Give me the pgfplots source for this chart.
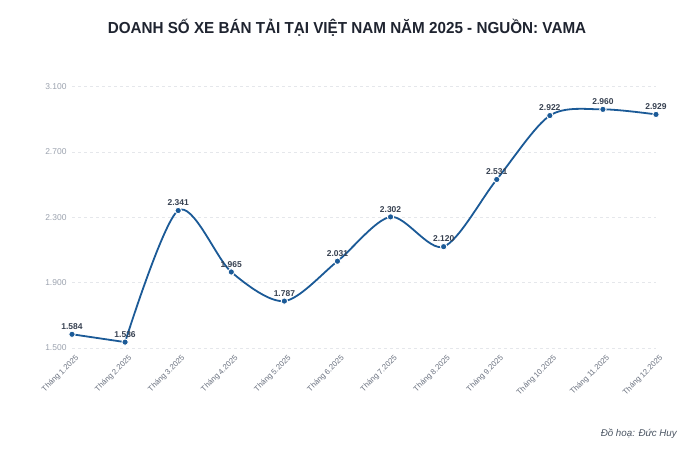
\documentclass[border=0pt]{standalone}
\usepackage{pgfplots}
\pgfplotsset{compat=1.18}
\usepackage{fontspec}
\setmainfont{Liberation Sans}
\definecolor{lineblue}{HTML}{1B5A97}
\definecolor{titlecol}{HTML}{1F2430}
\definecolor{ytickcol}{HTML}{9CA3AF}
\definecolor{xtickcol}{HTML}{6B7280}
\definecolor{labcol}{HTML}{374151}
\definecolor{credcol}{HTML}{4B5563}
\definecolor{gridcol}{HTML}{E5E7EB}
\pgfplotstableread{
x y
0 1584
1 1536
2 2341
3 1965
4 1787
5 2031
6 2302
7 2120
8 2531
9 2922
10 2960
11 2929
}\sales
\pgfplotstableread{
x y
0 1584
1 1536
}\segA
\pgfplotstableread{
x y
1 1536
2 2341
3 1965
4 1787
5 2031
6 2302
7 2120
8 2531
9 2922
10 2960
11 2929
}\segB
\begin{document}
\begin{tikzpicture}[x=1bp,y=1bp]
\path[use as bounding box, fill=white] (0,0) rectangle (700,451);
\begin{axis}[
  at={(72bp,103bp)}, anchor=south west,
  scale only axis, width=584bp, height=261.5bp,
  xmin=0, xmax=11, ymin=1500, ymax=3100,
  clip=false,
  axis line style={draw=none},
  major tick length=0pt,
  ytick={1500,1900,2300,2700,3100},
  xtick={0,...,11},
  xticklabels={Tháng 1.2025,Tháng 2.2025,Tháng 3.2025,Tháng 4.2025,Tháng 5.2025,Tháng 6.2025,Tháng 7.2025,Tháng 8.2025,Tháng 9.2025,Tháng 10.2025,Tháng 11.2025,Tháng 12.2025},
  ymajorgrids,
  grid style={gridcol, dash pattern=on 3bp off 3bp, line width=0.6bp},
  /pgf/number format/assume math mode=true,
  /pgf/number format/1000 sep={.},
  y tick label style={font=\fontsize{8.5}{10}\selectfont, text=ytickcol, xshift=-2bp},
  x tick label style={font=\fontsize{7.8}{9}\selectfont, text=xtickcol, rotate=45, anchor=north east, xshift=1bp, yshift=-3bp},
]
\addplot[lineblue, line width=1.8bp, smooth, tension=0.4, no marks] table[x=x,y=y] {\segA};
\addplot[lineblue, line width=1.8bp, smooth, tension=0.5, no marks] table[x=x,y=y] {\segB};
\addplot[only marks, mark=*, mark size=3.2bp,
  mark options={fill=lineblue, draw=white, line width=0.9bp},
  nodes near coords,
  every node near coord/.append style={font=\bfseries\fontsize{8.5}{10}\selectfont, text=labcol, anchor=south, yshift=1bp}]
  table[x=x,y=y] {\sales};
\end{axis}
\node[font=\bfseries\fontsize{16}{19}\selectfont, text=titlecol] at (347,423) {\scalebox{0.955}[1]{DOANH SỐ XE BÁN TẢI TẠI VIỆT NAM NĂM 2025 - NGUỒN: VAMA}};
\node[font=\itshape\fontsize{9.8}{11}\selectfont, text=credcol, anchor=east, inner sep=0pt] at (677,17) {Đồ hoạ: Đức Huy};
\end{tikzpicture}
\end{document}
